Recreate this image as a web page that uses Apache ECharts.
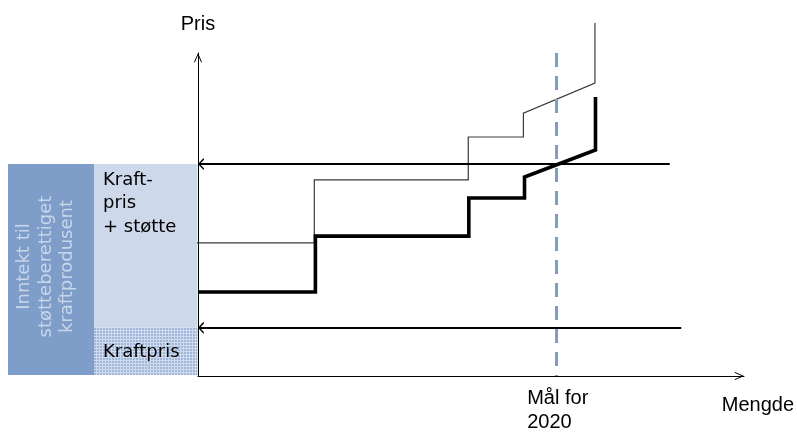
<!DOCTYPE html>
<html><head><meta charset="utf-8">
<script src="https://cdn.jsdelivr.net/npm/echarts@6/dist/echarts.min.js"></script>
<style>html,body{margin:0;padding:0;background:#fff}#c{width:797px;height:433px}</style>
</head><body><div id="c"></div>
<script>
// Supply curve without support (thin) and with support (thick): [quantity, price]
const thinCurve = [[-0.6,41.2],[21.3,41.2],[21.3,60.7],[49.5,60.7],[49.5,74.0],[59.6,74.0],[59.6,81.4],[72.7,90.7],[72.7,109.3]];
const thickCurve = [[0,26.0],[21.5,26.0],[21.5,43.3],[49.6,43.3],[49.6,55.1],[59.8,55.1],[59.8,61.6],[72.8,70.0],[72.8,86.4]];
// Price levels (horizontal arrows): [price, end quantity]
const supportPriceLine = [65.6, 86.4];
const powerPriceLine = [14.9, 88.5];
// Target 2020 (dashed): [quantity, top price]
const target2020 = [65.6, 100];
const axisNames = ['Mengde', 'Pris'];
const targetLabel = 'Mål for\n2020';
const boxTexts = ['Inntekt til\nstøtteberettiget\nkraftprodusent', 'Kraft-\npris\n+ støtte', 'Kraftpris'];

const chevronAxis = 'path://M4,0 L8,9 L7.2,9.5 L4,2.3 L0.8,9.5 L0,9 Z M4,-9.5 L4.001,-9.5 L4,-9.499 Z';
const chevronArrow = 'path://M6,0 L12,10 L10.3,11 L6,3.6 L1.7,11 L0,10 Z M6,-11 L6.001,-11 L6,-10.999 Z';

const chart = echarts.init(document.getElementById('c'));
const option = {
  animation: false,
  grid: {left: 198, right: 53, top: 53, bottom: 57},
  xAxis: {
    type: 'value', min: 0, max: 100,
    name: axisNames[0], nameLocation: 'end', nameGap: 50,
    nameTextStyle: {fontFamily: 'Liberation Sans', fontSize: 20, color: '#000', align: 'right', verticalAlign: 'top', padding: [19,0,0,0]},
    axisLine: {show: true, onZero: false, lineStyle: {color: '#000', width: 1}, symbol: ['none', chevronAxis], symbolSize: [8, 19]},
    axisTick: {show: false}, axisLabel: {show: false}, splitLine: {show: false}
  },
  yAxis: {
    type: 'value', min: 0, max: 100,
    name: axisNames[1], nameLocation: 'end', nameGap: 19,
    nameTextStyle: {fontFamily: 'Liberation Sans', fontSize: 20, color: '#000', align: 'center', verticalAlign: 'bottom'},
    axisLine: {show: true, onZero: false, lineStyle: {color: '#000', width: 1}, symbol: ['none', chevronAxis], symbolSize: [8, 19]},
    axisTick: {show: false}, axisLabel: {show: false}, splitLine: {show: false}
  },
  series: [
    {
      type: 'line', name: 'Uten støtte', data: thinCurve, showSymbol: false, symbol: 'none', clip: false, silent: true, z: 3,
      lineStyle: {color: '#3a3a3a', width: 1.2, join: 'miter'}
    },
    {
      type: 'line', name: 'Med støtte', data: thickCurve, showSymbol: false, symbol: 'none', clip: false, silent: true, z: 4,
      lineStyle: {color: '#000', width: 3.6, join: 'miter'},
      markLine: {
        silent: true, symbol: ['none', 'none'], animation: false,
        lineStyle: {color: '#7c9ecf', width: 3, type: [14, 9]},
        label: {show: false},
        data: [[{coord: [target2020[0], target2020[1]]}, {coord: [target2020[0], 0]}]]
      }
    },
    {
      type: 'lines', coordinateSystem: 'cartesian2d', silent: true, z: 5,
      symbol: [chevronArrow, 'none'], symbolSize: [12, 22],
      lineStyle: {color: '#000', width: 2, opacity: 1},
      data: [
        {coords: [[0, supportPriceLine[0]], [supportPriceLine[1], supportPriceLine[0]]]},
        {coords: [[0, powerPriceLine[0]], [powerPriceLine[1], powerPriceLine[0]]]}
      ]
    }
  ]
};
chart.setOption(option);

const px = p => chart.convertToPixel({xAxisIndex: 0, yAxisIndex: 0}, p);
const x0 = px([0, 0])[0];
const yBot = px([0, 0])[1] - 1;
const yTop = px([0, supportPriceLine[0]])[1];
const yMid = px([0, powerPriceLine[0]])[1];
const tx = px([target2020[0], 0]);

const pat = document.createElement('canvas');
pat.width = 3; pat.height = 3;
const ctx = pat.getContext('2d');
ctx.fillStyle = '#9fb6d8'; ctx.fillRect(0,0,3,3);
ctx.fillStyle = '#cfdbec'; ctx.fillRect(0,0,3,1); ctx.fillRect(0,0,1,3);

const boxFont = '18px "DejaVu Sans"';
chart.setOption({
  graphic: [
    {type: 'rect', z: -1, shape: {x: 8, y: yTop, width: 86, height: yBot - yTop}, style: {fill: '#7f9dc9'}, silent: true},
    {type: 'rect', z: -1, shape: {x: 94, y: yTop, width: x0 - 94.5, height: yMid - yTop}, style: {fill: '#cdd9ea'}, silent: true},
    {type: 'rect', z: -1, shape: {x: 94, y: yMid, width: x0 - 94.5, height: yBot - yMid}, style: {fill: {image: pat, repeat: 'repeat'}}, silent: true},
    {type: 'text', x: 46, y: (yTop + yBot) / 2 - 3, rotation: Math.PI / 2, silent: true,
     style: {text: boxTexts[0], font: boxFont, fill: '#c8d6ea', align: 'center', verticalAlign: 'middle', lineHeight: 21.5}},
    {type: 'text', x: 103, y: yTop + 4, silent: true,
     style: {text: boxTexts[1], font: boxFont, fill: '#000', align: 'left', verticalAlign: 'top', lineHeight: 23.5}},
    {type: 'text', x: 103, y: (yMid + yBot) / 2 + 1, silent: true,
     style: {text: boxTexts[2], font: boxFont, fill: '#000', align: 'left', verticalAlign: 'middle'}},
    {type: 'text', x: tx[0] - 29, y: tx[1] + 10, silent: true,
     style: {text: targetLabel, font: '20px "Liberation Sans"', fill: '#000', align: 'left', verticalAlign: 'top', lineHeight: 24}}
  ]
});
</script></body></html>
